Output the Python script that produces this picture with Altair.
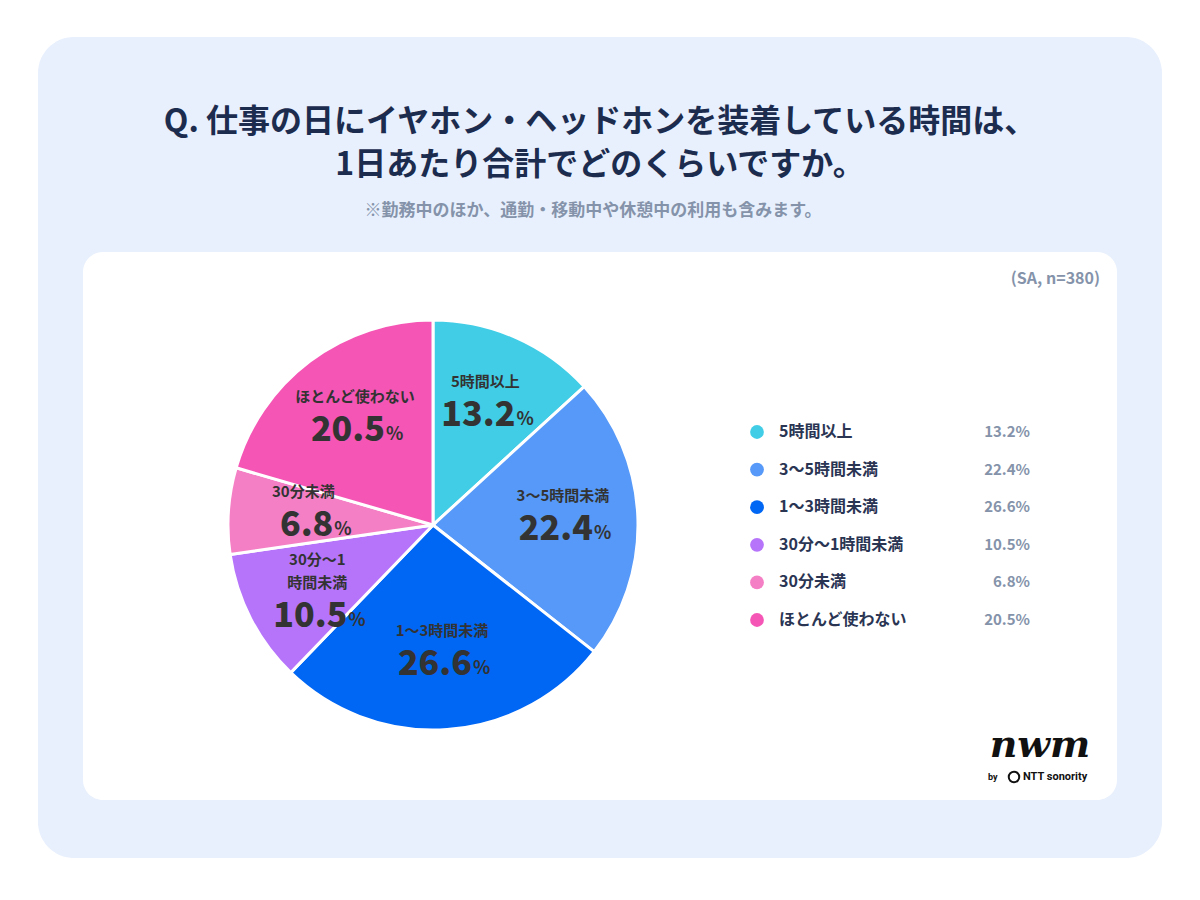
import pandas as pd
import altair as alt

OUTPUT_FILE = "out.html"

FONT = "Noto Sans CJK JP"
NAVY = "#1C2C4F"
INK = "#333333"
GRAY = "#8593AA"
PANEL = "#E8F0FD"

CATEGORIES = ["5時間以上", "3〜5時間未満", "1〜3時間未満", "30分〜1時間未満", "30分未満", "ほとんど使わない"]
PIE_LABELS = ["5時間以上", "3〜5時間未満", "1〜3時間未満", "30分〜1\n時間未満", "30分未満", "ほとんど使わない"]
SHARES = [13.2, 22.4, 26.6, 10.5, 6.8, 20.5]
COLORS = ["#41CDE6", "#5699F8", "#0066F4", "#B674FA", "#F57FC5", "#F556B5"]

TITLE_LINES = ["Q. 仕事の日にイヤホン・ヘッドホンを装着している時間は、",
               "1日あたり合計でどのくらいですか。"]
SUBTITLE = "※勤務中のほか、通勤・移動中や休憩中の利用も含みます。"
SAMPLE_NOTE = "(SA, n=380)"

df = pd.DataFrame({
    "category": CATEGORIES,
    "label": PIE_LABELS,
    "share": SHARES,
    "order": list(range(len(CATEGORIES))),
})
# a wrapped label pushes its value down by one line
lead = df["label"].map(lambda s: "\n" * s.count("\n"))
df["value"] = lead + df["share"].map(lambda v: f"{v:.1f}")
df["sign"] = lead + "%"
df["pct"] = df["share"].map(lambda v: f"{v:.1f}%")

COLOR_SCALE = alt.Scale(domain=CATEGORIES, range=COLORS)
one = pd.DataFrame({"a": [0]})

# pie geometry (chart pixels)
CX, CY, R = 425, 517, 205
LABEL_R = 130
LINE_H = 23

# --- backdrop -------------------------------------------------------------
panel = alt.Chart(one).mark_rect(color=PANEL, cornerRadius=36).encode(
    x=alt.value(30), x2=alt.value(1154), y=alt.value(29), y2=alt.value(850)
)
card = alt.Chart(one).mark_rect(color="white", cornerRadius=20).encode(
    x=alt.value(75), x2=alt.value(1109), y=alt.value(244), y2=alt.value(792)
)

title1 = alt.Chart(one).mark_text(
    font=FONT, fontSize=32, fontWeight="bold", color=NAVY, align="center", baseline="middle"
).encode(x=alt.value(592), y=alt.value(114), text=alt.value(TITLE_LINES[0]))
title2 = alt.Chart(one).mark_text(
    font=FONT, fontSize=32, fontWeight="bold", color=NAVY, align="center", baseline="middle"
).encode(x=alt.value(592), y=alt.value(157), text=alt.value(TITLE_LINES[1]))
subtitle = alt.Chart(one).mark_text(
    font=FONT, fontSize=17, fontWeight="bold", color=GRAY, align="center", baseline="middle"
).encode(x=alt.value(585), y=alt.value(203), text=alt.value(SUBTITLE))
note = alt.Chart(one).mark_text(
    font=FONT, fontSize=16, fontWeight="bold", color=GRAY, align="right", baseline="middle"
).encode(x=alt.value(1092), y=alt.value(271), text=alt.value(SAMPLE_NOTE))

# --- pie --------------------------------------------------------------------
base = alt.Chart(df).encode(
    theta=alt.Theta("share:Q", stack=True),
    order=alt.Order("order:Q"),
    x=alt.value(CX),
    y=alt.value(CY),
)

arcs = base.mark_arc(outerRadius=R, stroke="white", strokeWidth=3).encode(
    color=alt.Color("category:N", scale=COLOR_SCALE, legend=None)
)
names = base.mark_text(
    radius=LABEL_R, font=FONT, fontSize=15, fontWeight="bold", color=INK,
    align="center", baseline="bottom", dy=-16, lineBreak="\n", lineHeight=LINE_H
).encode(text="label:N")
values = base.mark_text(
    radius=LABEL_R, font=FONT, fontSize=34, fontWeight=900, color=INK,
    align="right", baseline="middle", dx=30, dy=10, lineBreak="\n", lineHeight=LINE_H
).encode(text="value:N")
percents = base.mark_text(
    radius=LABEL_R, font=FONT, fontSize=18, fontWeight="bold", color=INK,
    align="left", baseline="middle", dx=31, dy=14, lineBreak="\n", lineHeight=LINE_H
).encode(text="sign:N")

# --- legend -----------------------------------------------------------------
leg_y = alt.Y("category:N", scale=alt.Scale(domain=CATEGORIES, range=[424, 612], padding=0), axis=None)

leg_dots = alt.Chart(df).mark_circle(size=190, opacity=1).encode(
    x=alt.value(749), y=leg_y,
    color=alt.Color("category:N", scale=COLOR_SCALE, legend=None),
)
leg_names = alt.Chart(df).mark_text(
    font=FONT, fontSize=16, fontWeight="bold", color="#2A3553", align="left", baseline="middle"
).encode(x=alt.value(771), y=leg_y, text="category:N")
leg_pcts = alt.Chart(df).mark_text(
    font=FONT, fontSize=15, fontWeight="bold", color=GRAY, align="right", baseline="middle"
).encode(x=alt.value(1022), y=leg_y, text="pct:N")

# --- logo -------------------------------------------------------------------
logo = alt.Chart(one).mark_text(
    font="DejaVu Serif", fontSize=38, fontStyle="italic", fontWeight="bold", color="#111111",
    align="center", baseline="middle"
).encode(x=alt.value(1032), y=alt.value(738), text=alt.value("nwm"))
logo_by = alt.Chart(one).mark_text(
    font="Roboto", fontSize=9, fontWeight="bold", color="#111111", align="left", baseline="middle"
).encode(x=alt.value(980), y=alt.value(769), text=alt.value("by"))
logo_ring = alt.Chart(one).mark_point(size=110, filled=False, strokeWidth=2, color="#111111", opacity=1).encode(
    x=alt.value(1006), y=alt.value(769)
)
logo_ntt = alt.Chart(one).mark_text(
    font="Roboto", fontSize=11, fontWeight="bold", color="#111111", align="left", baseline="middle"
).encode(x=alt.value(1015), y=alt.value(769), text=alt.value("NTT sonority"))

chart = (
    alt.layer(
        panel, card, title1, title2, subtitle, note,
        arcs, names, values, percents,
        leg_dots, leg_names, leg_pcts,
        logo, logo_by, logo_ring, logo_ntt,
    )
    .properties(width=1184, height=884, padding=0, background="white")
    .configure_view(stroke=None)
)

chart.save(OUTPUT_FILE, embed_options={"renderer": "svg", "actions": False})
